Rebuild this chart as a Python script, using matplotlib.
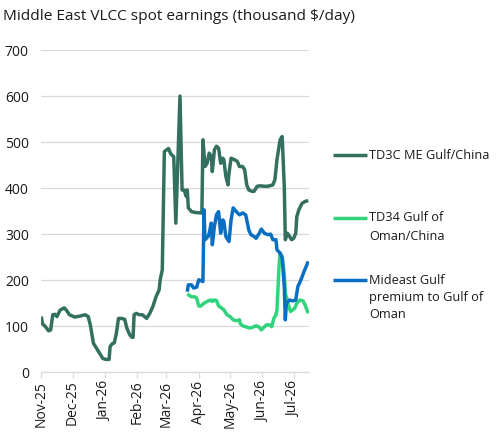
import matplotlib
matplotlib.use('Agg')
import matplotlib.pyplot as plt
import matplotlib.dates as mdates
from matplotlib.lines import Line2D
import pandas as pd

# TD3C ME Gulf/China (thousand $/day)
td3c_dates = ['2025-11-01', '2025-11-02', '2025-11-05', '2025-11-08', '2025-11-10', '2025-11-12',
              '2025-11-14', '2025-11-16', '2025-11-19', '2025-11-23', '2025-11-25', '2025-11-28',
              '2025-12-03', '2025-12-08', '2025-12-13', '2025-12-16', '2025-12-18', '2025-12-21',
              '2025-12-24', '2025-12-27', '2025-12-30', '2026-01-02', '2026-01-05', '2026-01-06',
              '2026-01-08', '2026-01-10', '2026-01-12', '2026-01-14', '2026-01-17', '2026-01-20',
              '2026-01-22', '2026-01-25', '2026-01-27', '2026-01-28', '2026-01-29', '2026-01-31',
              '2026-02-03', '2026-02-06', '2026-02-10', '2026-02-13', '2026-02-16', '2026-02-19',
              '2026-02-22', '2026-02-23', '2026-02-25', '2026-02-27', '2026-03-01', '2026-03-03',
              '2026-03-05', '2026-03-08', '2026-03-10', '2026-03-14', '2026-03-16', '2026-03-18',
              '2026-03-20', '2026-03-21', '2026-03-22', '2026-03-25', '2026-03-29', '2026-04-04',
              '2026-04-05', '2026-04-07', '2026-04-09', '2026-04-11', '2026-04-13', '2026-04-14',
              '2026-04-16', '2026-04-18', '2026-04-20', '2026-04-22', '2026-04-24', '2026-04-25',
              '2026-04-27', '2026-04-29', '2026-04-30', '2026-05-02', '2026-05-05', '2026-05-08',
              '2026-05-10', '2026-05-13', '2026-05-15', '2026-05-17', '2026-05-19', '2026-05-22',
              '2026-05-24', '2026-05-27', '2026-05-30', '2026-06-03', '2026-06-06', '2026-06-11',
              '2026-06-13', '2026-06-15', '2026-06-18', '2026-06-20', '2026-06-22', '2026-06-23',
              '2026-06-25', '2026-06-26', '2026-06-29', '2026-07-01', '2026-07-03', '2026-07-04',
              '2026-07-06', '2026-07-09', '2026-07-12', '2026-07-15']
td3c_vals = [121, 106, 99, 90, 92, 125,
             126, 121, 135, 140, 135, 125,
             120, 122, 125, 121, 103, 63,
             52, 41, 30, 28, 28, 56,
             62, 64, 85, 117, 117, 115,
             96, 81, 76, 76, 125, 128,
             125, 125, 117, 128, 143, 164,
             179, 201, 222, 479, 483, 486,
             475, 468, 324, 600, 396, 396,
             382, 396, 357, 349, 347, 346,
             505, 447, 454, 476, 469, 436,
             483, 491, 487, 454, 465, 462,
             425, 407, 433, 465, 462, 458,
             447, 447, 440, 407, 396, 393,
             393, 404, 405, 404, 404, 407,
             418, 462, 505, 512, 404, 288,
             302, 299, 288, 291, 302, 338,
             353, 367, 371, 373]

# TD34 Gulf of Oman/China
td34_dates = ['2026-03-21', '2026-03-25', '2026-03-28', '2026-03-30', '2026-04-01', '2026-04-03',
              '2026-04-06', '2026-04-10', '2026-04-13', '2026-04-14', '2026-04-16', '2026-04-18',
              '2026-04-20', '2026-04-22', '2026-04-25', '2026-04-28', '2026-05-01', '2026-05-04',
              '2026-05-07', '2026-05-10', '2026-05-11', '2026-05-13', '2026-05-16', '2026-05-20',
              '2026-05-23', '2026-05-26', '2026-05-29', '2026-05-31', '2026-06-03', '2026-06-05',
              '2026-06-08', '2026-06-10', '2026-06-12', '2026-06-14', '2026-06-15', '2026-06-17',
              '2026-06-18', '2026-06-20', '2026-06-22', '2026-06-23', '2026-06-26', '2026-06-28',
              '2026-07-02', '2026-07-04', '2026-07-07', '2026-07-10', '2026-07-12', '2026-07-15']
td34_vals = [170, 164, 164, 161, 144, 144,
             150, 155, 157, 154, 157, 156,
             144, 141, 136, 125, 121, 114,
             112, 114, 105, 101, 99, 96,
             98, 101, 98, 92, 99, 103,
             103, 99, 117, 125, 136, 230,
             259, 251, 215, 172, 146, 132,
             139, 150, 157, 155, 146, 128]

# Mideast Gulf premium to Gulf of Oman
prem_dates = ['2026-03-21', '2026-03-22', '2026-03-25', '2026-03-27', '2026-03-30', '2026-04-01',
              '2026-04-03', '2026-04-05', '2026-04-06', '2026-04-07', '2026-04-10', '2026-04-11',
              '2026-04-13', '2026-04-14', '2026-04-16', '2026-04-18', '2026-04-20', '2026-04-22',
              '2026-04-24', '2026-04-25', '2026-04-27', '2026-04-30', '2026-05-02', '2026-05-04',
              '2026-05-07', '2026-05-10', '2026-05-13', '2026-05-16', '2026-05-19', '2026-05-21',
              '2026-05-24', '2026-05-26', '2026-05-29', '2026-05-31', '2026-06-03', '2026-06-06',
              '2026-06-09', '2026-06-11', '2026-06-14', '2026-06-15', '2026-06-18', '2026-06-20',
              '2026-06-22', '2026-06-23', '2026-06-24', '2026-06-27', '2026-06-30', '2026-07-03',
              '2026-07-05', '2026-07-08', '2026-07-11', '2026-07-15']
prem_vals = [175, 190, 190, 183, 185, 201,
             199, 197, 353, 288, 295, 302,
             324, 277, 317, 342, 349, 302,
             331, 328, 295, 284, 331, 357,
             349, 342, 346, 342, 309, 299,
             295, 291, 302, 311, 302, 299,
             300, 288, 288, 266, 259, 248,
             186, 114, 150, 157, 155, 157,
             186, 201, 219, 241]

labels = ['TD3C ME Gulf/China', 'TD34 Gulf of\nOman/China', 'Mideast Gulf\npremium to Gulf of\nOman']
colors = ['#33705f', '#2fd47c', '#0a6fc2']
title = 'Middle East VLCC spot earnings (thousand $/day)'

W, H = 497, 437
plt.rcParams['font.family'] = ['Open Sans', 'DejaVu Sans']
txt = '#1a1a1a'

fig = plt.figure(figsize=(W / 100, H / 100), dpi=100)
ax = fig.add_axes([41.3 / W, 1 - 372.3 / H, (309.3 - 41.3) / W, (372.3 - 50) / H])

series = [(td3c_dates, td3c_vals), (td34_dates, td34_vals), (prem_dates, prem_vals)]
for (d, v), c in zip(series, colors):
    ax.plot(pd.to_datetime(d), v, color=c, lw=2.5, solid_capstyle='butt', zorder=3)

ax.set_ylim(0, 700)
ax.set_yticks(range(0, 701, 100))
ax.set_xlim(pd.Timestamp('2025-11-01'), pd.Timestamp('2026-07-16'))
ax.xaxis.set_major_locator(mdates.MonthLocator())
ax.xaxis.set_major_formatter(mdates.DateFormatter('%b-%y'))

for s in ['top', 'right', 'left']:
    ax.spines[s].set_visible(False)
ax.spines['bottom'].set_color('#d9d9d9')
ax.spines['bottom'].set_linewidth(0.9)
ax.grid(axis='y', color='#d9d9d9', lw=0.9)
ax.set_axisbelow(True)

ax.tick_params(axis='y', length=0, pad=9, labelsize=10, labelcolor=txt)
ax.tick_params(axis='x', length=4, width=0.9, color='#d9d9d9', pad=2, labelsize=10,
               labelcolor=txt, labelrotation=90)

fig.text(3 / W, 1 - 17 / H, title, fontsize=11.1, color=txt, va='center', ha='left')

# legend on the right, handle aligned with first text line
leg_y = [[155], [218, 236], [280, 297.5, 315]]
for lab, c, ys in zip(labels, colors, leg_y):
    fig.add_artist(Line2D([333 / W, 367 / W], [1 - ys[0] / H] * 2, transform=fig.transFigure,
                          color=c, lw=2.5, solid_capstyle='butt'))
    for line, y in zip(lab.split('\n'), ys):
        fig.text(369 / W, 1 - y / H, line, fontsize=9.15, color=txt, va='center', ha='left')

fig.savefig('out.png', dpi=100)
